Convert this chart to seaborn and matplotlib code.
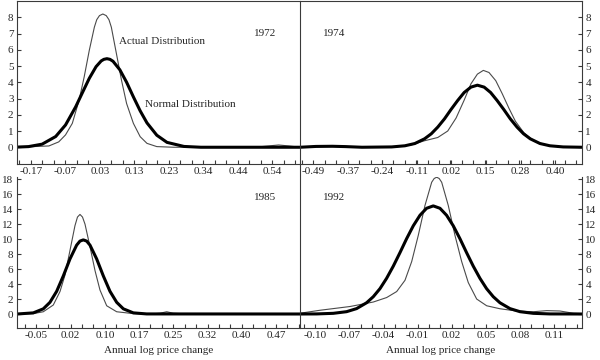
import pandas as pd
import seaborn as sns
import matplotlib.pyplot as plt
from matplotlib.lines import Line2D
from matplotlib.ticker import AutoMinorLocator, FixedLocator

sns.set_style("ticks")
plt.rcParams['font.family'] = ['Liberation Serif', 'DejaVu Serif']
plt.rcParams['font.size'] = 8

# ---- 1972 ----
x72_act = [-0.213, -0.119, -0.090, -0.070, -0.050, -0.030, -0.015, 0.000, 0.015, 0.022, 0.030, 0.040,
           0.050, 0.058, 0.065, 0.080, 0.095, 0.110, 0.130, 0.150, 0.170, 0.199, 0.249, 0.488, 0.528,
           0.558, 0.588, 0.621]
y72_act = [0.0, 0.08, 0.33, 0.76, 1.47, 2.9, 4.33, 5.96, 7.39, 7.85, 8.1, 8.2,
           8.1, 7.85, 7.39, 5.76, 4.12, 2.69, 1.47, 0.65, 0.24, 0.04, 0.0, 0.0, 0.08,
           0.14, 0.08, 0.0]
x72_norm = [-0.213, -0.179, -0.139, -0.099, -0.070, -0.040, -0.020, 0.000, 0.020, 0.035, 0.043, 0.052,
            0.061, 0.070, 0.090, 0.110, 0.130, 0.150, 0.170, 0.199, 0.229, 0.279, 0.329, 0.621]
y72_norm = [0.01, 0.04, 0.19, 0.66, 1.37, 2.49, 3.37, 4.24, 4.96, 5.31, 5.41, 5.45,
            5.41, 5.29, 4.77, 4.0, 3.10, 2.24, 1.50, 0.74, 0.30, 0.05, 0.0, 0.0]
ticks72 = [-0.172, -0.0703, 0.0314, 0.1331, 0.2348, 0.3365, 0.4382, 0.5399]
labels72 = ['-0.17', '-0.07', '0.03', '0.13', '0.23', '0.34', '0.44', '0.54']

# ---- 1974 ----
x74_act = [-0.543, -0.484, -0.423, -0.374, -0.313, -0.191, -0.129, -0.081, -0.032, 0.005, 0.036,
           0.066, 0.091, 0.115, 0.137, 0.158, 0.183, 0.207, 0.232, 0.256, 0.287, 0.323, 0.372,
           0.433, 0.503]
y74_act = [0.0, 0.06, 0.08, 0.05, 0.0, 0.02, 0.15, 0.4, 0.6, 1.0, 1.8,
           2.9, 3.9, 4.5, 4.73, 4.6, 4.1, 3.3, 2.4, 1.6, 0.9, 0.4, 0.12,
           0.02, 0.0]
x74_norm = [-0.543, -0.484, -0.423, -0.374, -0.313, -0.203, -0.154, -0.117, -0.081, -0.056, -0.032,
            -0.007, 0.017, 0.042, 0.066, 0.091, 0.115, 0.140, 0.164, 0.188, 0.213, 0.237, 0.262,
            0.286, 0.311, 0.347, 0.384, 0.433, 0.503]
y74_norm = [0.0, 0.05, 0.06, 0.04, 0.0, 0.02, 0.09, 0.23, 0.52, 0.83, 1.24,
            1.75, 2.32, 2.88, 3.37, 3.70, 3.82, 3.70, 3.37, 2.88, 2.32, 1.75, 1.24,
            0.83, 0.52, 0.23, 0.09, 0.02, 0.0]
ticks74 = [-0.493, -0.366, -0.238, -0.110, 0.018, 0.146, 0.275, 0.403]
labels74 = ['-0.49', '-0.37', '-0.24', '-0.11', '0.02', '0.15', '0.28', '0.40']

# ---- 1985 ----
x85_act = [-0.097, -0.0617, -0.0398, -0.0179, -0.0032, 0.0077, 0.0187, 0.0296, 0.0351, 0.0406, 0.0461,
           0.0516, 0.0625, 0.0735, 0.0844, 0.0991, 0.121, 0.1574, 0.194, 0.2159, 0.2306, 0.245, 0.2744,
           0.5226]
y85_act = [0.0, 0.05, 0.3, 1.2, 3.0, 5.2, 8.5, 11.8, 12.95, 13.3, 12.95,
           12.0, 9.0, 5.8, 3.2, 1.1, 0.3, 0.05, 0.0, 0.1, 0.3, 0.1, 0.0,
           0.0]
x85_norm = [-0.097, -0.0617, -0.0398, -0.0252, -0.0105, 0.0041, 0.0187, 0.0333, 0.0406, 0.0479,
            0.0552, 0.0625, 0.0771, 0.0917, 0.1063, 0.121, 0.1356, 0.1575, 0.1867, 0.5226]
y85_norm = [0.0, 0.15, 0.69, 1.56, 3.03, 5.09, 7.36, 9.2, 9.74, 9.9,
            9.74, 9.2, 7.36, 5.09, 3.03, 1.56, 0.69, 0.15, 0.01, 0.0]
ticks85 = [-0.055, 0.020, 0.095, 0.170, 0.245, 0.320, 0.395, 0.470]
labels85 = ['-0.05', '0.02', '0.10', '0.17', '0.25', '0.32', '0.40', '0.47']

# ---- 1992 ----
x92_act = [-0.1135, -0.0959, -0.0695, -0.049, -0.0372, -0.0284, -0.0211, -0.0152, -0.0094, -0.0035,
           0.0024, 0.0046, 0.0068, 0.009, 0.0112, 0.017, 0.0229, 0.0288, 0.0346, 0.042, 0.0508, 0.0625,
           0.0772, 0.0918, 0.1036, 0.1153, 0.1271, 0.1347]
y92_act = [0.1, 0.5, 1.0, 1.6, 2.2, 3.0, 4.5, 7.0, 10.5, 14.5,
           17.6, 18.1, 18.27, 18.1, 17.6, 14.5, 10.5, 7.0, 4.2, 2.0, 1.1, 0.7,
           0.4, 0.3, 0.45, 0.4, 0.1, 0.05]
x92_norm = [-0.1135, -0.0989, -0.0842, -0.0725, -0.0637, -0.0549, -0.049, -0.0431, -0.0373, -0.0314,
            -0.0255, -0.0197, -0.0138, -0.0079, -0.0021, 0.0038, 0.0097, 0.0155, 0.0214, 0.0273,
            0.0331, 0.039, 0.0449, 0.0507, 0.0566, 0.0625, 0.0713, 0.0801, 0.0918, 0.1065, 0.1347]
y92_norm = [0.0, 0.01, 0.09, 0.31, 0.72, 1.50, 2.31, 3.39, 4.76, 6.39,
            8.2, 10.05, 11.78, 13.19, 14.12, 14.44, 14.12, 13.19, 11.78, 10.05,
            8.2, 6.39, 4.76, 3.39, 2.31, 1.50, 0.72, 0.31, 0.09, 0.01, 0.0]
ticks92 = [-0.10, -0.07, -0.04, -0.01, 0.02, 0.05, 0.08, 0.11]
labels92 = ['-0.10', '-0.07', '-0.04', '-0.01', '0.02', '0.05', '0.08', '0.11']

frame = '#3a3a3a'
fig = plt.figure(figsize=(6, 3.6), dpi=100)

panels = [
    dict(year='1972', rect=[0.02833, 0.54583, 0.47167, 0.45139], xlim=(-0.213, 0.621), ylim=(-1, 9),
         yticks=range(0, 9), side='left', top=True, txt=(0.876, 0.803),
         xa=x72_act, ya=y72_act, xn=x72_norm, yn=y72_norm, ticks=ticks72, labels=labels72),
    dict(year='1974', rect=[0.5, 0.54583, 0.47, 0.45139], xlim=(-0.543, 0.503), ylim=(-1, 9),
         yticks=range(0, 9), side='right', top=True, txt=(0.122, 0.803),
         xa=x74_act, ya=y74_act, xn=x74_norm, yn=y74_norm, ticks=ticks74, labels=labels74),
    dict(year='1985', rect=[0.02833, 0.08889, 0.47167, 0.41944], xlim=(-0.0974, 0.5226), ylim=(-1.87, 18.3),
         yticks=range(0, 19, 2), side='left', top=False, txt=(0.876, 0.861),
         xa=x85_act, ya=y85_act, xn=x85_norm, yn=y85_norm, ticks=ticks85, labels=labels85),
    dict(year='1992', rect=[0.5, 0.08889, 0.47, 0.41944], xlim=(-0.1135, 0.1347), ylim=(-1.87, 18.3),
         yticks=range(0, 19, 2), side='right', top=False, txt=(0.122, 0.861),
         xa=x92_act, ya=y92_act, xn=x92_norm, yn=y92_norm, ticks=ticks92, labels=labels92),
]

for p in panels:
    ax = fig.add_axes(p['rect'])
    sns.lineplot(x=p['xa'], y=p['ya'], ax=ax, color='#4a4a4a', lw=0.8, sort=False, estimator=None)
    sns.lineplot(x=p['xn'], y=p['yn'], ax=ax, color='black', lw=2.2, sort=False, estimator=None)
    ax.set_xlim(*p['xlim'])
    ax.set_ylim(*p['ylim'])
    ax.xaxis.set_major_locator(FixedLocator(p['ticks']))
    ax.set_xticklabels(p['labels'])
    ax.xaxis.set_minor_locator(AutoMinorLocator(3))
    ax.set_yticks(list(p['yticks']))
    ax.tick_params(axis='both', which='both', direction='in', length=3, width=0.8,
                   color=frame, labelsize=8, pad=2.5)
    for s in ax.spines.values():
        s.set_color(frame)
        s.set_linewidth(0.8)
    ax.spines['top'].set_visible(p['top'])
    if p['side'] == 'right':
        ax.yaxis.tick_right()
        ax.spines['left'].set_visible(False)
    else:
        ax.spines['right'].set_visible(False)
    ax.set_ylabel('')
    if not p['top']:
        ax.set_xlabel('Annual log price change', fontsize=8, labelpad=4)
    ax.text(p['txt'][0], p['txt'][1], p['year'], transform=ax.transAxes,
            ha='center', va='center', fontsize=8)
    if p['year'] == '1972':
        ax.text(0.360, 0.748, 'Actual Distribution', transform=ax.transAxes,
                ha='left', va='center', fontsize=8)
        ax.text(0.452, 0.366, 'Normal Distribution', transform=ax.transAxes,
                ha='left', va='center', fontsize=8)

fig.add_artist(Line2D([0.5, 0.5], [0.08889, 0.9972], color=frame, lw=0.8, transform=fig.transFigure))

fig.savefig('out.png', dpi=100)
plt.close(fig)
